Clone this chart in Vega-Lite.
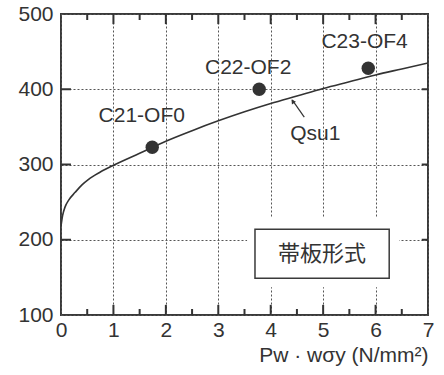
{
  "$schema": "https://vega.github.io/schema/vega-lite/v6.json",
  "width": 367,
  "height": 301,
  "autosize": "none",
  "padding": {"left": 61, "top": 14, "right": 16, "bottom": 60},
  "background": "white",
  "config": {
    "view": {"stroke": "#3a3a3a", "strokeWidth": 2},
    "font": "Liberation Sans",
    "axis": {"domain": false, "ticks": false, "labelFont": "Liberation Sans", "titleFont": "Liberation Sans", "labelColor": "#333", "titleColor": "#333", "labelFontSize": 21, "titleFontSize": 21, "titleFontWeight": "normal", "labelOverlap": false, "labelFlush": false}
  },
  "datasets": {
    "curve": [
      {"x": 0, "y": 218}, {"x": 0.03, "y": 232}, {"x": 0.08, "y": 244}, {"x": 0.15, "y": 253},
      {"x": 0.27, "y": 263}, {"x": 0.4, "y": 273}, {"x": 0.52, "y": 280}, {"x": 0.75, "y": 290},
      {"x": 1, "y": 299}, {"x": 1.5, "y": 315}, {"x": 2, "y": 331}, {"x": 2.5, "y": 345},
      {"x": 3, "y": 358}, {"x": 3.5, "y": 370}, {"x": 4, "y": 381}, {"x": 4.5, "y": 391},
      {"x": 5, "y": 401}, {"x": 5.5, "y": 410}, {"x": 6, "y": 419}, {"x": 6.5, "y": 427},
      {"x": 7, "y": 435}
    ],
    "pts": [
      {"x": 1.74, "y": 323, "name": "C21-OF0", "lx": 1.54, "ly": 364},
      {"x": 3.78, "y": 400, "name": "C22-OF2", "lx": 3.57, "ly": 428},
      {"x": 5.86, "y": 428, "name": "C23-OF4", "lx": 5.79, "ly": 463}
    ],
    "box": [{"x1": 3.55, "x2": 6.45, "y1": 137, "y2": 229, "bx1": 3.7, "bx2": 6.26, "by1": 149, "by2": 214, "tx": 4.98, "ty": 181, "label": "帯板形式"}],
    "arrow": [{"x": 4.64, "y": 363, "k": 0}, {"x": 4.41, "y": 386, "k": 1}],
    "qlabel": [{"x": 4.85, "y": 341, "label": "Qsu1", "ax": 4.42, "ay": 384}],
    "xmajor": [{"v": 1}, {"v": 2}, {"v": 3}, {"v": 4}, {"v": 5}, {"v": 6}],
    "xminor": [{"v": 0.5}, {"v": 1.5}, {"v": 2.5}, {"v": 3.5}, {"v": 4.5}, {"v": 5.5}, {"v": 6.5}],
    "yticks": [{"v": 200}, {"v": 300}, {"v": 400}]
  },
  "layer": [
    {
      "data": {"name": "curve"},
      "mark": {"type": "line", "color": "#333", "strokeWidth": 1.6, "interpolate": "monotone", "clip": true},
      "encoding": {
        "x": {"field": "x", "type": "quantitative", "scale": {"domain": [0, 7], "nice": false, "zero": false},
          "axis": {"values": [0, 1, 2, 3, 4, 5, 6, 7], "format": "d", "labelPadding": 4,
            "grid": true, "gridDash": [2, 2], "gridColor": "#555", "gridWidth": 1,
            "title": "Pw · wσy (N/mm²)", "titleAnchor": "end", "titlePadding": 4}},
        "y": {"field": "y", "type": "quantitative", "scale": {"domain": [100, 500], "nice": false, "zero": false},
          "axis": {"values": [100, 200, 300, 400, 500], "labelPadding": 8,
            "grid": true, "gridDash": [2, 2], "gridColor": "#555", "gridWidth": 1,
            "title": null}}
      }
    },
    {
      "data": {"name": "box"},
      "mark": {"type": "rect", "fill": "white", "stroke": null},
      "encoding": {
        "x": {"field": "x1", "type": "quantitative"},
        "x2": {"field": "x2"},
        "y": {"field": "y1", "type": "quantitative"},
        "y2": {"field": "y2"}
      }
    },
    {"data": {"name": "xmajor"}, "mark": {"type": "rule", "color": "#333", "strokeWidth": 2},
     "encoding": {"x": {"field": "v", "type": "quantitative"}, "y": {"datum": 100, "type": "quantitative"}, "y2": {"datum": 113.5}}},
    {"data": {"name": "xmajor"}, "mark": {"type": "rule", "color": "#333", "strokeWidth": 2},
     "encoding": {"x": {"field": "v", "type": "quantitative"}, "y": {"datum": 500, "type": "quantitative"}, "y2": {"datum": 486.5}}},
    {"data": {"name": "xminor"}, "mark": {"type": "rule", "color": "#333", "strokeWidth": 2},
     "encoding": {"x": {"field": "v", "type": "quantitative"}, "y": {"datum": 100, "type": "quantitative"}, "y2": {"datum": 108}}},
    {"data": {"name": "xminor"}, "mark": {"type": "rule", "color": "#333", "strokeWidth": 2},
     "encoding": {"x": {"field": "v", "type": "quantitative"}, "y": {"datum": 500, "type": "quantitative"}, "y2": {"datum": 492}}},
    {"data": {"name": "yticks"}, "mark": {"type": "rule", "color": "#333", "strokeWidth": 2},
     "encoding": {"y": {"field": "v", "type": "quantitative"}, "x": {"datum": 0, "type": "quantitative"}, "x2": {"datum": 0.19}}},
    {"data": {"name": "yticks"}, "mark": {"type": "rule", "color": "#333", "strokeWidth": 2},
     "encoding": {"y": {"field": "v", "type": "quantitative"}, "x": {"datum": 7, "type": "quantitative"}, "x2": {"datum": 6.88}}},
    {
      "data": {"name": "box"},
      "mark": {"type": "rect", "fill": "white", "stroke": "#3a3a3a", "strokeWidth": 1.5},
      "encoding": {
        "x": {"field": "bx1", "type": "quantitative"},
        "x2": {"field": "bx2"},
        "y": {"field": "by1", "type": "quantitative"},
        "y2": {"field": "by2"}
      }
    },
    {
      "data": {"name": "box"},
      "mark": {"type": "text", "font": "Noto Sans CJK JP", "fontSize": 22, "color": "#333", "align": "center", "baseline": "middle"},
      "encoding": {
        "x": {"field": "tx", "type": "quantitative"},
        "y": {"field": "ty", "type": "quantitative"},
        "text": {"field": "label"}
      }
    },
    {
      "data": {"name": "arrow"},
      "mark": {"type": "line", "color": "#333", "strokeWidth": 1.2},
      "encoding": {
        "x": {"field": "x", "type": "quantitative"},
        "y": {"field": "y", "type": "quantitative"},
        "order": {"field": "k"}
      }
    },
    {
      "data": {"name": "qlabel"},
      "mark": {"type": "point", "shape": "triangle-up", "filled": true, "color": "#333", "size": 25, "angle": -35, "opacity": 1},
      "encoding": {
        "x": {"field": "ax", "type": "quantitative"},
        "y": {"field": "ay", "type": "quantitative"}
      }
    },
    {
      "data": {"name": "qlabel"},
      "mark": {"type": "text", "fontSize": 21, "color": "#333", "align": "center", "baseline": "middle"},
      "encoding": {
        "x": {"field": "x", "type": "quantitative"},
        "y": {"field": "y", "type": "quantitative"},
        "text": {"field": "label"}
      }
    },
    {
      "data": {"name": "pts"},
      "mark": {"type": "circle", "color": "#333", "size": 180, "opacity": 1},
      "encoding": {
        "x": {"field": "x", "type": "quantitative"},
        "y": {"field": "y", "type": "quantitative"}
      }
    },
    {
      "data": {"name": "pts"},
      "mark": {"type": "text", "fontSize": 21, "color": "#333", "align": "center", "baseline": "middle"},
      "encoding": {
        "x": {"field": "lx", "type": "quantitative"},
        "y": {"field": "ly", "type": "quantitative"},
        "text": {"field": "name"}
      }
    }
  ]
}
